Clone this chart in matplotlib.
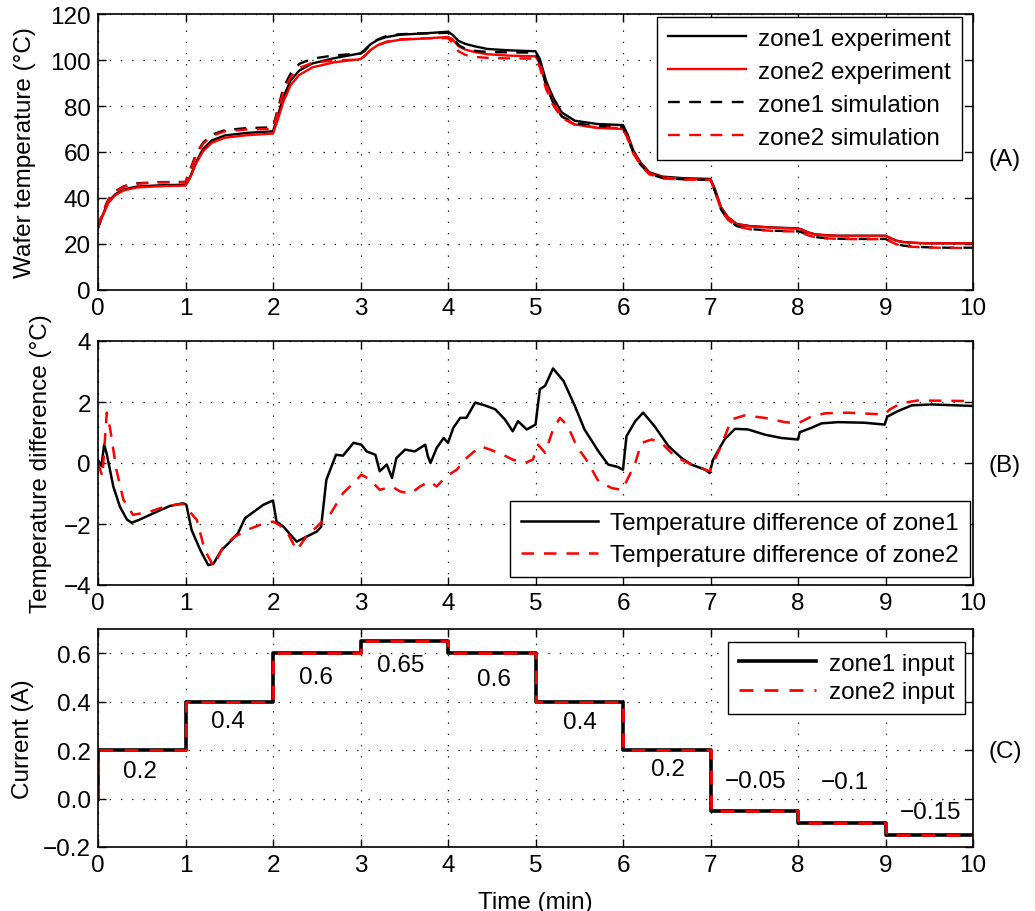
import matplotlib
matplotlib.use("Agg")
import matplotlib.pyplot as plt
import numpy as np

plt.rcParams['font.family'] = ['Liberation Sans', 'DejaVu Sans']
plt.rcParams['font.size'] = 17.5

# ---- panel A: wafer temperature ----
t_temp = [0.0, 0.05, 0.12, 0.2, 0.3, 0.45, 0.7,
          1.0, 1.05, 1.12, 1.2, 1.3, 1.45, 1.7,
          2.0, 2.05, 2.12, 2.2, 2.3, 2.45, 2.7,
          3.0, 3.05, 3.12, 3.2, 3.3, 3.45, 3.7,
          4.0, 4.05, 4.12, 4.2, 4.3, 4.45, 4.7,
          5.0, 5.05, 5.12, 5.2, 5.3, 5.45, 5.7,
          6.0, 6.05, 6.12, 6.2, 6.3, 6.45, 6.7,
          7.0, 7.05, 7.12, 7.2, 7.3, 7.45, 7.7,
          8.0, 8.05, 8.12, 8.2, 8.3, 8.45, 8.7,
          9.0, 9.05, 9.12, 9.2, 9.3, 9.45, 9.7,
          10.0]
zone1_exp = [27.0, 32.3, 38.5, 41.7, 43.8, 45.0, 45.5,
             45.8, 49.0, 55.5, 61.3, 65.0, 67.2, 68.3,
             69.0, 75.0, 84.0, 91.0, 95.4, 98.5, 100.8,
             102.9, 104.5, 107.0, 108.8, 110.0, 111.0, 111.5,
             112.3, 111.0, 108.3, 107.0, 106.0, 104.8, 104.2,
             103.8, 100.4, 91.0, 83.8, 77.2, 73.6, 72.2,
             71.7, 67.8, 60.5, 55.5, 51.2, 49.3, 48.6,
             48.3, 43.9, 36.0, 31.6, 28.7, 27.8, 27.2,
             26.8, 26.2, 25.0, 24.2, 23.9, 23.6, 23.6,
             23.6, 22.7, 21.5, 20.9, 20.6, 20.3, 20.3,
             20.3]
zone2_exp = [27.0, 32.0, 38.0, 41.3, 43.4, 44.6, 45.1,
             45.4, 48.5, 55.0, 60.3, 64.0, 66.2, 67.3,
             68.0, 73.5, 82.0, 89.0, 93.5, 96.8, 99.0,
             100.4, 102.0, 104.5, 106.5, 107.8, 108.8, 109.3,
             110.0, 109.0, 106.0, 104.5, 103.5, 102.5, 101.9,
             101.6, 98.5, 89.5, 82.0, 75.5, 72.0, 70.5,
             70.0, 66.5, 60.0, 55.0, 50.8, 49.0, 48.3,
             48.0, 43.5, 35.8, 31.5, 28.6, 27.7, 27.1,
             26.7, 26.1, 24.9, 24.1, 23.8, 23.5, 23.5,
             23.5, 22.6, 21.4, 20.8, 20.5, 20.3, 20.3,
             20.3]
zone1_sim = [27.0, 33.5, 39.5, 43.0, 45.2, 46.4, 46.9,
             47.0, 52.0, 59.0, 64.0, 67.5, 69.5, 70.4,
             70.7, 78.0, 88.0, 94.0, 98.3, 100.6, 102.0,
             102.8, 104.0, 107.0, 109.0, 110.5, 111.2, 111.6,
             111.8, 110.0, 106.5, 104.8, 104.0, 103.5, 103.3,
             103.2, 99.0, 89.0, 81.5, 75.5, 72.5, 71.3,
             71.0, 66.5, 59.5, 54.5, 50.5, 48.7, 48.1,
             47.9, 43.0, 35.0, 30.5, 27.8, 26.5, 25.8,
             25.5, 25.0, 23.8, 23.0, 22.6, 22.3, 22.2,
             22.2, 21.3, 20.0, 19.3, 18.9, 18.6, 18.4,
             18.4]
zone2_sim = [27.0, 33.3, 39.3, 42.8, 45.0, 46.2, 46.8,
             46.9, 51.5, 58.5, 63.5, 67.0, 69.0, 69.8,
             70.0, 77.0, 86.5, 92.5, 96.5, 98.8, 99.8,
             100.2, 101.8, 104.5, 106.5, 108.0, 109.0, 109.4,
             109.5, 107.5, 103.8, 102.2, 101.4, 100.9, 100.7,
             100.6, 96.8, 87.5, 80.5, 74.8, 71.8, 70.7,
             70.4, 66.0, 59.2, 54.3, 50.3, 48.5, 48.0,
             47.8, 42.9, 35.0, 30.5, 27.7, 26.4, 25.7,
             25.4, 24.9, 23.7, 22.9, 22.5, 22.2, 22.1,
             22.1, 21.2, 19.9, 19.2, 18.8, 18.5, 18.3,
             18.3]

# ---- panel B: temperature difference ----
t_diff1 = [0.0, 0.04, 0.07, 0.10, 0.175, 0.25, 0.33, 0.385, 0.48, 0.58,
           0.67, 0.82, 0.97, 1.01, 1.07, 1.17, 1.26, 1.32, 1.41, 1.51,
           1.6, 1.68, 1.78, 1.89, 2.0, 2.04, 2.12, 2.27, 2.38, 2.5,
           2.55, 2.61, 2.72, 2.8, 2.92, 3.01, 3.07, 3.17, 3.22, 3.3,
           3.36, 3.41, 3.51, 3.62, 3.74, 3.77, 3.8, 3.87, 3.95, 4.0,
           4.06, 4.14, 4.21, 4.31, 4.42, 4.54, 4.65, 4.74, 4.8, 4.9,
           5.0, 5.05, 5.11, 5.2, 5.32, 5.45, 5.56, 5.72, 5.83, 5.94,
           6.0, 6.04, 6.14, 6.23, 6.36, 6.52, 6.67, 6.78, 6.94, 6.99,
           7.03, 7.16, 7.28, 7.43, 7.62, 7.81, 8.0, 8.02, 8.15, 8.27,
           8.46, 8.76, 8.99, 9.02, 9.14, 9.3, 9.53, 10.0]
diff1 = [0.1, -0.1, 0.6, 0.3, -0.77, -1.43, -1.85, -1.96, -1.85, -1.72,
         -1.6, -1.41, -1.32, -1.37, -2.2, -2.86, -3.35, -3.3, -2.86, -2.58,
         -2.3, -1.81, -1.6, -1.37, -1.23, -1.92, -2.09, -2.58, -2.42, -2.25,
         -2.09, -0.55, 0.27, 0.24, 0.66, 0.6, 0.38, 0.27, -0.27, -0.05,
         -0.49, 0.16, 0.44, 0.38, 0.6, 0.22, 0.0, 0.49, 0.82, 0.66,
         1.15, 1.48, 1.48, 1.98, 1.89, 1.76, 1.43, 1.04, 1.37, 1.1,
         1.26, 2.42, 2.53, 3.1, 2.69, 1.87, 1.1, 0.38, -0.05, -0.13,
         -0.22, 0.88, 1.37, 1.65, 1.21, 0.55, 0.16, -0.05, -0.22, -0.33,
         0.11, 0.77, 1.12, 1.1, 0.93, 0.82, 0.77, 1.01, 1.15, 1.3,
         1.34, 1.32, 1.26, 1.52, 1.7, 1.89, 1.92, 1.87]
t_diff2 = [0.0, 0.05, 0.1, 0.14, 0.21, 0.29, 0.4, 0.59, 0.78, 0.97,
           1.05, 1.13, 1.22, 1.32, 1.43, 1.55, 1.7, 1.85, 2.0, 2.08,
           2.17, 2.27, 2.38, 2.54, 2.66, 2.8, 2.92, 3.01, 3.11, 3.22,
           3.36, 3.45, 3.57, 3.68, 3.79, 3.87, 3.98, 4.1, 4.21, 4.37,
           4.48, 4.63, 4.74, 4.88, 4.97, 5.03, 5.11, 5.2, 5.28, 5.37,
           5.47, 5.58, 5.72, 5.87, 5.98, 6.04, 6.14, 6.21, 6.33, 6.44,
           6.59, 6.78, 6.99, 7.03, 7.12, 7.24, 7.39, 7.62, 7.85, 8.0,
           8.15, 8.31, 8.57, 8.99, 9.05, 9.18, 9.37, 10.0]
diff2 = [0.0, -0.44, 1.65, 1.1, -0.22, -1.2, -1.7, -1.6, -1.41, -1.34,
         -1.6, -1.87, -2.86, -3.38, -2.75, -2.44, -2.2, -2.03, -1.92, -2.05,
         -2.31, -2.86, -2.42, -1.98, -1.65, -0.99, -0.66, -0.38, -0.55, -0.88,
         -0.77, -0.93, -1.01, -0.77, -0.6, -0.77, -0.44, -0.22, 0.16, 0.55,
         0.44, 0.27, 0.11, 0.0, 0.11, 0.6, 0.33, 1.1, 1.48, 1.21,
         0.55, 0.11, -0.6, -0.82, -0.88, -0.6, 0.0, 0.66, 0.77, 0.66,
         0.22, -0.05, -0.27, 0.0, 0.55, 1.43, 1.56, 1.48, 1.34, 1.3,
         1.52, 1.63, 1.65, 1.59, 1.76, 1.96, 2.05, 2.03]

# ---- panel C: current input ----
t_step = [0, 1, 2, 3, 4, 5, 6, 7, 8, 9, 10]
current = [0.2, 0.4, 0.6, 0.65, 0.6, 0.4, 0.2, -0.05, -0.1, -0.15, -0.15]
step_labels = ['0.2', '0.4', '0.6', '0.65', '0.6', '0.4', '0.2', '\u22120.05', '\u22120.1', '\u22120.15']
label_x = [0.48, 1.49, 2.49, 3.46, 4.53, 5.51, 6.51, 7.52, 8.54, 9.52]
label_y = [0.115, 0.319, 0.50, 0.551, 0.495, 0.315, 0.12, 0.073, 0.068, -0.057]

fig = plt.figure(figsize=(10.35, 9.12), dpi=100)
W, H = 1035.0, 912.0
left, right = 98 / W, 973 / W
axA = fig.add_axes([left, (H - 291) / H, right - left, 276 / H])
axB = fig.add_axes([left, (H - 586) / H, right - left, 244 / H])
axC = fig.add_axes([left, (H - 848) / H, right - left, 218 / H])

leg_kw = dict(handlelength=3.2, borderaxespad=0, fancybox=False, edgecolor='k',
              framealpha=1, handletextpad=0.5, borderpad=0.45)

dash = (0, (5, 4))
axA.plot(t_temp, zone1_exp, color='k', lw=1.7, label='zone1 experiment')
axA.plot(t_temp, zone2_exp, color='r', lw=1.7, label='zone2 experiment')
axA.plot(t_temp, zone1_sim, color='k', lw=1.7, ls=dash, label='zone1 simulation')
axA.plot(t_temp, zone2_sim, color='r', lw=1.7, ls=dash, label='zone2 simulation')
axA.set_ylim(0, 120)
axA.set_yticks(np.arange(0, 121, 20))
axA.set_ylabel('Wafer temperature (\u00b0C)')
axA.legend(loc='upper right', bbox_to_anchor=(962 / W, (H - 18) / H),
           bbox_transform=fig.transFigure, labelspacing=0.45, **leg_kw)

axB.plot(t_diff1, diff1, color='k', lw=1.8, label='Temperature difference of zone1')
axB.plot(t_diff2, diff2, color='r', lw=1.8, ls=dash, label='Temperature difference of zone2')
axB.set_ylim(-4, 4)
axB.set_yticks([-4, -2, 0, 2, 4])
axB.set_ylabel('Temperature difference (\u00b0C)')
axB.legend(loc='lower right', bbox_to_anchor=(970 / W, (H - 578) / H),
           bbox_transform=fig.transFigure, labelspacing=0.4, **leg_kw)

axC.plot([0] + t_step, [0] + current, color='k', lw=2.6, drawstyle='steps-post', label='zone1 input')
axC.plot([0] + t_step, [0] + current, color='r', lw=2.0, ls=dash, drawstyle='steps-post', label='zone2 input')
for x, y, s in zip(label_x, label_y, step_labels):
    axC.text(x, y, s, ha='center', va='center')
axC.set_ylim(-0.2, 0.7)
axC.set_yticks([-0.2, 0.0, 0.2, 0.4, 0.6])
axC.set_yticklabels(['\u22120.2', '0.0', '0.2', '0.4', '0.6'])
axC.set_ylabel('Current (A)')
axC.legend(loc='upper right', bbox_to_anchor=(965 / W, (H - 643) / H),
           bbox_transform=fig.transFigure, labelspacing=0.25, **leg_kw)

for ax in (axA, axB, axC):
    ax.set_xlim(0, 10)
    ax.set_xticks(range(0, 11))
    ax.grid(True, color='k', ls=(0, (1, 8)), lw=0.9)
    ax.tick_params(direction='in', top=True, right=True, length=6, width=1, pad=5)
    for sp in ax.spines.values():
        sp.set_linewidth(1.2)

axA.yaxis.set_label_coords((36 - 98) / 875, 0.5)
axB.yaxis.set_label_coords((52 - 98) / 875, 0.5)
axC.yaxis.set_label_coords((34 - 98) / 875, 0.5)

fig.text(1005 / W, (H - 160) / H, '(A)', ha='center', va='center')
fig.text(1005 / W, (H - 466) / H, '(B)', ha='center', va='center')
fig.text(1005 / W, (H - 752) / H, '(C)', ha='center', va='center')
fig.text(535 / W, (H - 903) / H, 'Time (min)', ha='center', va='center')

fig.savefig('out.png', dpi=100)
